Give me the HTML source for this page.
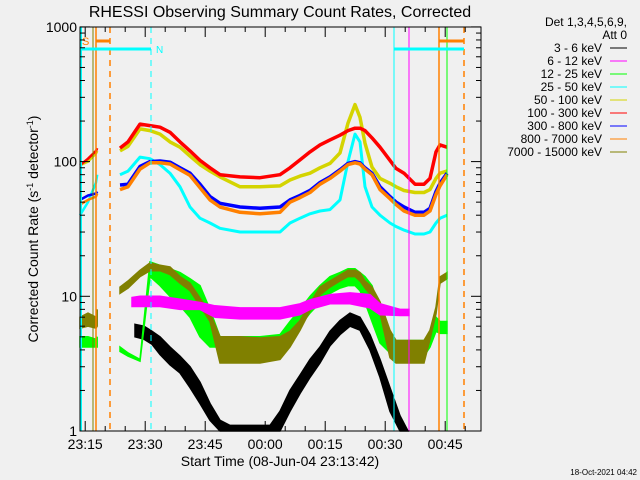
<!DOCTYPE html>
<html><head><meta charset="utf-8"><style>
body{margin:0;background:#f0f0f0;}
svg{display:block;font-family:"Liberation Sans",sans-serif;}
</style></head><body>
<svg id="c" width="640" height="480" viewBox="0 0 640 480" xmlns="http://www.w3.org/2000/svg">
<rect width="640" height="480" fill="#f0f0f0"/>
<text x="280" y="17" font-size="16" text-anchor="middle" fill="#000">RHESSI Observing Summary Count Rates, Corrected</text>
<text transform="translate(38,229) rotate(-90)" font-size="14" text-anchor="middle">Corrected Count Rate (s<tspan font-size="9" dy="-5">-1</tspan><tspan dy="5"> detector</tspan><tspan font-size="9" dy="-5">-1</tspan><tspan dy="5">)</tspan></text>
<text x="280" y="466" font-size="14" text-anchor="middle">Start Time (08-Jun-04 23:13:42)</text>
<text x="637" y="475" font-size="8" text-anchor="end">18-Oct-2021 04:42</text>
<g id="series"></g>
<g id="axes"></g>
<g id="legend"></g>
</svg>
<script>
const L=80,R=481,T=27,B=431;
const tickLabels=["23:15","23:30","23:45","00:00","00:15","00:30","00:45"];
const tickMinutes=[1.3,16.3,31.3,46.3,61.3,76.3,91.3];
const yTicks=[1,10,100,1000];
const bands=["3 - 6 keV","6 - 12 keV","12 - 25 keV","25 - 50 keV","50 - 100 keV","100 - 300 keV","300 - 800 keV","800 - 7000 keV","7000 - 15000 keV"];
const colors=["#000","#ff00ff","#00ff00","#00ffff","#d4d400","#ff0000","#0000ff","#ff8000","#808000"];
// times (minutes since 23:13:42) and values
const tA=[0,2,4,4.3];
const tB=[10,12,15,17.5,20,22.5,25,27.5,30,32.5,35,40,45,50,52.5,55,57.5,60,62.5,65,67,68.75,70,71.25,73,75,77.5,79,81,83.75,86,87.5,89,90,91.75];
const red1=[94,105,120,126];
const red2=[126,140,190,185,180,165,140,120,102,90,80,77,76,80,90,103,118,133,145,157,170,177,177,170,150,128,102,89,82,68,68,75,118,133,128];
const yel1=[94,100,115,120];
const yel2=[120,130,175,170,160,140,128,110,95,85,77,65,65,66,73,78,82,90,97,116,193,265,213,137,91,75,69,65,61,59,59,62,75,82,85];
const blu1=[52,56,58,60];
const blu2=[67,68,92,100,101,99,90,82,68,55,49,46,45,46,52,56,61,70,77,87,97,100,98,90,82,65,55,50,46,42,42,45,60,69,82];
const org1=[48,52,55,58];
const org2=[62,65,88,98,98,96,87,79,64,52,46,42,41,42,50,54,59,68,75,85,95,98,96,88,80,62,53,48,43,40,40,43,57,66,80];
const cyn1=[40,50,70,80];
const cyn2=[80,85,108,105,95,82,65,46,38,35,32,30,30,30,35,38,41,43,44,52,100,160,140,65,46,40,35,33,31,29,29,30,35,38,40];
const oli1=[7,7.5,7,8];
const oli1Low=[5.8,6,5.8,6];
const oli2=[11.7,13,15.6,17.7,17,16.5,14,12.5,9.7,7.5,5,5,4.9,5,5.5,6.6,8.9,11.7,13,14.4,15.6,15.6,15,13,11.7,9.1,5.6,4.7,4.7,4.7,4.7,5.6,8.3,13.9,15];
const oli2Low=[10.5,11.5,14,15.5,15.5,14.5,12.5,11,8.5,6.5,3.2,3.2,3.2,3.4,4.2,5.6,7.8,10.2,11.7,13,14,14,13,11.5,10,7.5,3.5,3.2,3.2,3.2,3.2,4.8,7.4,12.5,13.5];
const grn1=[5,5,4.8,5];
const grn1Low=[4.2,4.2,4.2,4.2];
const grn2=[4.2,3.8,3.4,18,17,16,15,13.5,12,8,5,5,5,5.2,6.5,8,10,12,14,15,16,16,15,14,12,8,5.5,4.7,4.7,4.7,4.7,5.5,7,6.5,6.5];
const grn2Low=[3.9,3.6,3.3,14,12,10,8.5,7,5,4.2,4.2,4.2,4.2,4.2,5,6,7.5,9,10.5,11.5,12,12,11,9,6.5,4.5,3.8,3.6,3.6,3.6,3.6,4.2,5.5,5.3,5.3];
const tM=[13,15,20,25,30,33.75,40,45,50,55,57.5,62.5,67.5,72.5,75,80,82.25];
const mag=[9.8,10,10,9.5,9,8.5,8.2,8.2,8.2,8.8,9.4,10.3,10.6,10.3,8.8,8,8];
const magLow=[8.4,8.4,8.4,8,8,7,6.8,6.8,6.8,7.3,8,8.8,8.8,8.2,7.3,7.2,7.2];
const tK=[13.75,16,18,20,22.5,25,27.5,30,32.5,35,37.5,42.5,47.5,50,52.5,55,57.5,60,62.5,65,67.5,70,72.5,75,77.5,80,82];
const blk=[6.2,6,5.5,5,4.2,3.6,3,2.3,1.6,1.2,1.1,1.1,1.1,1.4,2,2.6,3.4,4.2,5.5,6.6,7.5,7,5.2,3.4,2.1,1.3,1];
const blkLow=[5,4.8,4.4,3.7,3.1,2.7,2.1,1.6,1.2,1,1,1,1,1,1.4,1.9,2.5,3.2,4.3,5.2,6,5.6,4,2.5,1.4,1,1];

const sx=t=>L+4*t;
const sy=v=>B-134.7*Math.log10(Math.max(v,1));
const NS="http://www.w3.org/2000/svg";
function mk(tag,attrs,parent){const e=document.createElementNS(NS,tag);for(const k in attrs)e.setAttribute(k,attrs[k]);parent.appendChild(e);return e;}
const S=document.getElementById('series'),A=document.getElementById('axes'),G=document.getElementById('legend');

function line(ts,vs){return ts.map((t,i)=>(i?'L':'M')+sx(t).toFixed(1)+' '+sy(vs[i]).toFixed(1)).join('');}
function series(name,ts,vs,col,w){
  const p=mk('path',{d:line(ts,vs),fill:'none',stroke:col,'stroke-width':w,'stroke-linejoin':'round'},S);
  
  
}
function band(name,ts,hi,lo,col){
  let d=line(ts,hi);
  for(let i=ts.length-1;i>=0;i--)d+='L'+sx(ts[i]).toFixed(1)+' '+sy(lo[i]).toFixed(1);
  const p=mk('path',{d:d+'Z',fill:col,stroke:col,'stroke-width':1.5},S);
  
  
}
band('series-3-6-kev',tK,blk,blkLow,'#000');
band('series-12-25-kev-a',tA,grn1,grn1Low,'#00ff00');
band('series-12-25-kev-b',tB,grn2,grn2Low,'#00ff00');
band('series-7000-15000-kev-a',tA,oli1,oli1Low,'#808000');
band('series-7000-15000-kev-b',tB,oli2,oli2Low,'#808000');
band('series-6-12-kev',tM,mag,magLow,'#ff00ff');
series('series-25-50-kev-a',tA,cyn1,'#00ffff',2.5);
series('series-25-50-kev-b',tB,cyn2,'#00ffff',3);
series('series-50-100-kev-a',tA,yel1,'#d4d400',2.5);
series('series-50-100-kev-b',tB,yel2,'#d4d400',3.5);
series('series-300-800-kev-a',tA,blu1,'#0000ff',2.5);
series('series-300-800-kev-b',tB,blu2,'#0000ff',3.5);
series('series-800-7000-kev-a',tA,org1,'#ff8000',2.5);
series('series-800-7000-kev-b',tB,org2,'#ff8000',3.5);
series('series-100-300-kev-a',tA,red1,'#ff0000',2.5);
series('series-100-300-kev-b',tB,red2,'#ff0000',3.5);

const vlines=[[81,'#00ffff',2,''],[93,'#808000',1,''],[96,'#ff8000',1.5,''],[110,'#ff8000',1.5,'6,5'],[151,'#00ffff',1,'6,5'],[394,'#00ffff',1,''],[409,'#ff00ff',1,''],[439,'#ff8000',1.5,''],[447,'#00ff00',1,''],[464,'#ff8000',1.5,'6,5']];
vlines.forEach(v=>{const l=mk('line',{x1:v[0],x2:v[0],y1:T,y2:B,stroke:v[1],'stroke-width':v[2],'stroke-dasharray':v[3]},A);

});
const bars=[[96,110,41,'#ff8000'],[81,151,49,'#00ffff'],[394,464,49,'#00ffff'],[439,464,41,'#ff8000']];
bars.forEach(b=>{const l=mk('line',{x1:b[0],x2:b[1],y1:b[2],y2:b[2],stroke:b[3],'stroke-width':3},A);

});
let t1=mk('text',{x:82,y:45,'font-size':11,fill:'#ff8000'},A);t1.textContent='S';


let t2=mk('text',{x:156,y:53,'font-size':10,fill:'#00ffff'},A);t2.textContent='N';



const fr=mk('rect',{x:L,y:T,width:R-L,height:B-T,fill:'none',stroke:'#000','stroke-width':1},A);


for(let m=1.3;m<=100;m+=5){const x=sx(m);const major=Math.abs(((m-1.3)/15)-Math.round((m-1.3)/15))<0.01;const len=major?10:5;
 mk('line',{x1:x,x2:x,y1:B,y2:B-len,stroke:'#000'},A);mk('line',{x1:x,x2:x,y1:T,y2:T+len,stroke:'#000'},A);}
tickLabels.forEach((s,i)=>{const e=mk('text',{x:sx(tickMinutes[i]),y:449,'font-size':14,'text-anchor':'middle'},A);e.textContent=s;

});
yTicks.forEach((v,i)=>{const y=sy(v);mk('line',{x1:L,x2:L+10,y1:y,y2:y,stroke:'#000'},A);mk('line',{x1:R,x2:R-10,y1:y,y2:y,stroke:'#000'},A);
 const e=mk('text',{x:L-3,y:y+5,'font-size':14,'text-anchor':'end'},A);e.textContent=String(v);
 
 
 if(i<3)for(let k=2;k<10;k++){const yy=sy(v*k);mk('line',{x1:L,x2:L+5,y1:yy,y2:yy,stroke:'#000'},A);mk('line',{x1:R,x2:R-5,y1:yy,y2:yy,stroke:'#000'},A);}});
let h1=mk('text',{x:627,y:26,'font-size':12,'text-anchor':'end'},G);h1.textContent='Det 1,3,4,5,6,9,';


let h2=mk('text',{x:627,y:39,'font-size':12,'text-anchor':'end'},G);h2.textContent='Att 0';


bands.forEach((b,i)=>{const y=52+i*13;const e=mk('text',{x:602,y:y,'font-size':12,'text-anchor':'end'},G);e.textContent=b;


mk('line',{x1:610,x2:627,y1:y-4,y2:y-4,stroke:colors[i],'stroke-width':1},G);});
</script>
</body></html>
